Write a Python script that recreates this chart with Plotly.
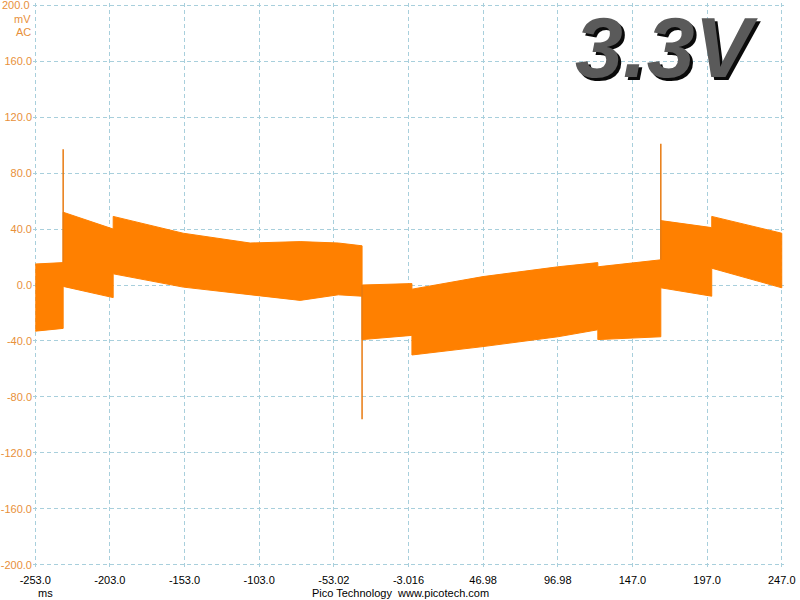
import plotly.graph_objects as go

# ---- data ----
# envelope of the noisy band (time in ms, voltage in mV)
t_env = [-253.0, -234.3, -234.3, -200.8, -200.8, -153.9, -109.1, -75.6, -50.0, -34.1,
         -34.1, -0.7, -0.7, 46.9, 97.0, 123.8, 123.8, 166.0, 166.0, 200.1, 200.1, 247.0]
upper = [15, 16, 52, 40, 49, 37, 30, 31, 30, 28,
         0, 1, -3, 6, 13, 16, 13, 18, 46, 41, 49, 37]
lower = [-33, -31, -1, -9, 8, -1.5, -7, -11, -7, -8,
         -39, -36, -50, -44, -37, -32, -39, -37, -2, -8, 12, -2]

# transient spikes
spike_t = [-234.3, -34.1, 166.0]
spike_peak = [97, -96, 101]
spike_base = [16, 0, 18]

# axis ticks
x_tickvals = [-253, -203, -153, -103, -53.02, -3.016, 46.98, 96.98, 147, 197, 247]
x_ticktext = ["-253.0", "-203.0", "-153.0", "-103.0", "-53.02", "-3.016",
              "46.98", "96.98", "147.0", "197.0", "247.0"]
y_tickvals = [200, 160, 120, 80, 40, 0, -40, -80, -120, -160, -200]
y_ticktext = ["200.0", "160.0", "120.0", "80.0", "40.0", "0.0",
              "-40.0", "-80.0", "-120.0", "-160.0", "-200.0"]

ORANGE = "#ff8000"
LABEL_ORANGE = "#e8903a"
GRID = "#a8cfdc"
FONT = "Liberation Sans"

fig = go.Figure()

fig.add_trace(go.Scatter(
    x=t_env + t_env[::-1],
    y=upper + lower[::-1],
    fill="toself", fillcolor=ORANGE,
    mode="lines", line=dict(color=ORANGE, width=1),
    hoverinfo="skip", showlegend=False,
))

for t, b, p in zip(spike_t, spike_base, spike_peak):
    fig.add_trace(go.Scatter(
        x=[t, t], y=[b, p], mode="lines",
        line=dict(color="#e87a10", width=1.5),
        hoverinfo="skip", showlegend=False,
    ))

# the top tick label is drawn as an annotation (plotly drops it at the figure edge)
axis_ticktext = ["" if v == max(y_tickvals) else s for v, s in zip(y_tickvals, y_ticktext)]

fig.update_layout(
    width=800, height=600,
    margin=dict(l=33, r=16, t=3, b=33, autoexpand=False),
    paper_bgcolor="white", plot_bgcolor="white",
    font=dict(family=FONT, size=11, color="black"),
    xaxis=dict(
        range=[-254.5, 248.5], tickvals=x_tickvals, ticktext=x_ticktext,
        showgrid=True, gridcolor=GRID, griddash="4px,3px", gridwidth=1,
        zeroline=False, showline=False, ticks="", ticklabelstandoff=5,
        tickfont=dict(family=FONT, size=11, color="black"),
    ),
    yaxis=dict(
        range=[-201.5, 201.5], tickvals=y_tickvals, ticktext=axis_ticktext,
        showgrid=True, gridcolor=GRID, griddash="4px,3px", gridwidth=1,
        zeroline=False, showline=False, ticks="", ticklabelstandoff=0,
        tickfont=dict(family=FONT, size=11, color=LABEL_ORANGE),
    ),
    hovermode=False,
)

top_i = y_tickvals.index(max(y_tickvals))
fig.add_annotation(text=y_ticktext[top_i], xref="paper", yref="y", x=0, y=y_tickvals[top_i],
                   xanchor="right", yanchor="middle", xshift=-1, showarrow=False,
                   font=dict(family=FONT, size=11, color=LABEL_ORANGE))

# unit labels under the top y tick
fig.add_annotation(text="mV", xref="paper", yref="paper", x=0, y=0.9716,
                   xanchor="right", yanchor="middle", showarrow=False,
                   font=dict(family=FONT, size=11, color=LABEL_ORANGE))
fig.add_annotation(text="AC", xref="paper", yref="paper", x=0, y=0.9486,
                   xanchor="right", yanchor="middle", showarrow=False,
                   font=dict(family=FONT, size=11, color=LABEL_ORANGE))

# bottom labels
fig.add_annotation(text="ms", xref="paper", yref="paper", x=0, y=-0.0461,
                   xanchor="left", yanchor="middle", xshift=3, showarrow=False,
                   font=dict(family=FONT, size=11, color="black"))
fig.add_annotation(text="Pico Technology  www.picotech.com", xref="paper", yref="paper",
                   x=0.4887, y=-0.0461, xanchor="center", yanchor="middle", showarrow=False,
                   font=dict(family=FONT, size=11, color="black"))

# big "3.3V" label with shadow
fig.add_annotation(text="<b><i>3.3V</i></b>", xref="paper", yref="paper", x=0.844, y=0.922,
                   xanchor="center", yanchor="middle", xshift=3, yshift=-3, showarrow=False,
                   font=dict(family=FONT, size=86, color="#0a0a0a"))
fig.add_annotation(text="<b><i>3.3V</i></b>", xref="paper", yref="paper", x=0.844, y=0.922,
                   xanchor="center", yanchor="middle", showarrow=False,
                   font=dict(family=FONT, size=86, color="#5a5a5a"))

fig.write_html("out.html", config={"displayModeBar": False},
               post_script="document.body.style.margin='0';document.body.style.overflow='hidden';")
